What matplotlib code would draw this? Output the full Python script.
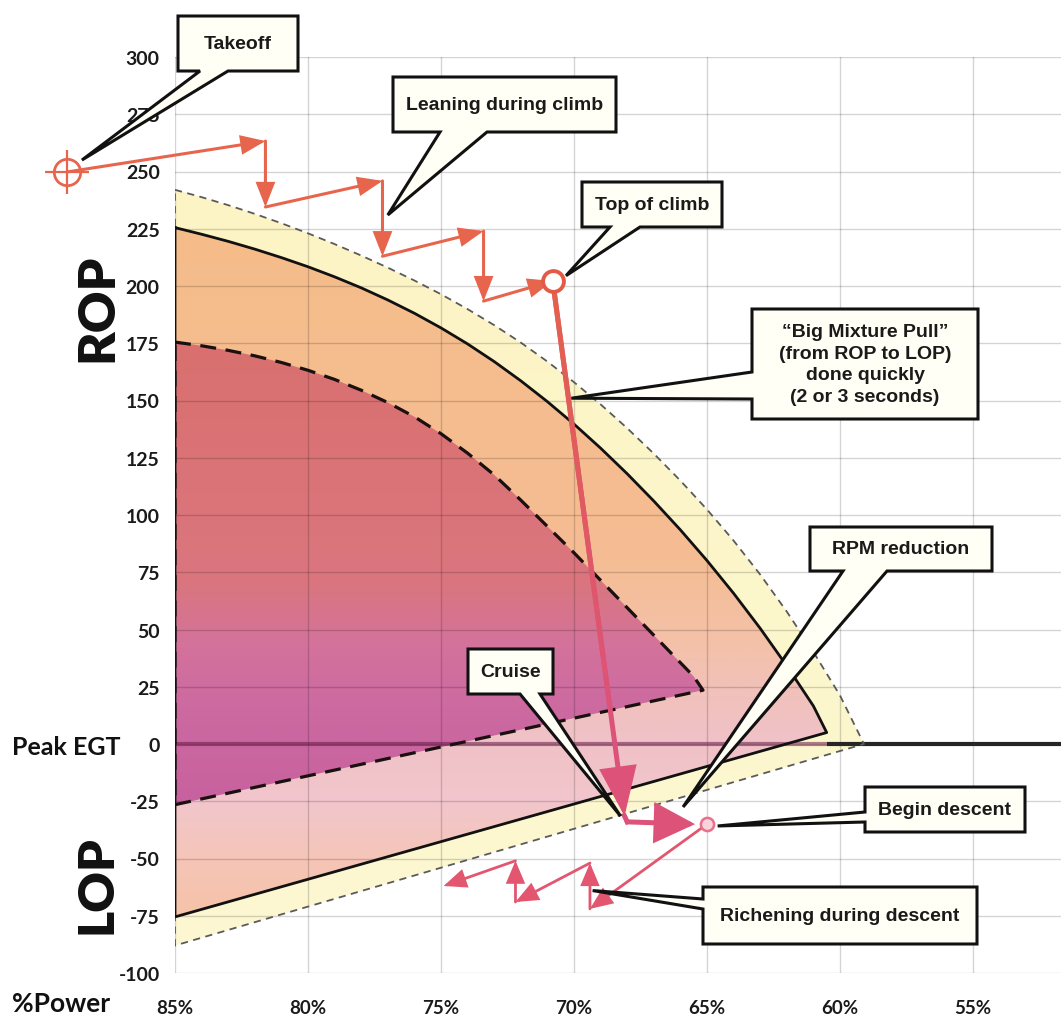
import numpy as np
import matplotlib
matplotlib.use("Agg")
import matplotlib.pyplot as plt
from matplotlib.patches import Polygon, FancyArrowPatch, ArrowStyle
from matplotlib.colors import LinearSegmentedColormap, to_rgb
from matplotlib.collections import LineCollection
from matplotlib import font_manager as fm

# ---------------- data ----------------
power_ticks = [85, 80, 75, 70, 65, 60, 55]
power_labels = ["85%", "80%", "75%", "70%", "65%", "60%", "55%"]
egt_ticks = list(range(-100, 301, 25))
egt_labels = [str(v) for v in egt_ticks]

# outer (yellow, dashed grey) envelope
outer_top_power = [85, 84, 83, 82, 81, 80, 79, 78, 77, 76, 75, 74, 73, 72, 71, 70,
                   69, 68, 67, 66, 65, 64, 63, 62, 61, 60, 59.1]
outer_top_egt = [242, 238.8, 235.3, 231.5, 227.4, 223.0, 218.3, 213.3, 208.0, 202.4,
                 196.4, 189.9, 182.9, 175.3, 167.0, 158.0, 148.3, 137.9, 126.8, 115.0,
                 102.4, 88.8, 74.0, 57.8, 40.2, 21.2, 0]
outer_bot_power = [59.1, 85]
outer_bot_egt = [0, -88]

# middle (orange, solid black) envelope
mid_top_power = [85, 84, 83, 82, 81, 80, 79, 78, 77, 76, 75, 74, 73, 72, 71, 70,
                 69, 68, 67, 66, 65, 64, 63, 62, 61, 60.5]
mid_top_egt = [225.5, 222.6, 219.5, 216.1, 212.4, 208.4, 204.0, 199.2, 193.9, 188.1,
               181.7, 174.7, 167.0, 158.6, 149.5, 139.7, 129.2, 118.0, 106.1, 93.5,
               80.1, 65.8, 50.5, 34.1, 16.6, 5]
mid_bot_power = [60.5, 85]
mid_bot_egt = [5, -75.5]

# inner (red, dashed black) envelope
inner_top_power = [85, 84, 83, 82, 81, 80, 79, 78, 77, 76, 75, 74, 73, 72, 71, 70,
                   69, 68, 67, 66, 65.5, 65.15]
inner_top_egt = [175.5, 173.9, 171.9, 169.5, 166.6, 163.2, 159.2, 154.5, 149.1, 142.9,
                 135.5, 127.0, 117.5, 106.5, 95.0, 83.5, 71.5, 59.5, 47.5, 35.5, 29.5, 23.5]
inner_bot_power = [65.15, 85]
inner_bot_egt = [23.5, -26.5]

# flight path
takeoff = (89.06, 249.8)
climb_power = [89.06, 81.6, 81.6, 77.2, 77.2, 73.4, 73.4, 70.8]
climb_egt = [249.8, 263.3, 234.5, 245.9, 213, 224, 193.4, 202.2]
pull_power = [70.8, 68.1]
pull_egt = [202.2, -31.5]
cruise_power = [68.0, 65.45]
cruise_egt = [-34, -35]
begin_descent = (65.0, -35)
descent_power = [65.0, 69.4, 69.4, 72.2, 72.2, 74.9]
descent_egt = [-35, -72, -52, -69, -51, -62]

# callouts: text, box (px), side, wedge base (px), pointer target (data)
callouts = [
    ("Takeoff", (178, 17, 298, 72), "bottom", (200, 228), (88.5, 255.0)),
    ("Leaning during climb", (393, 78, 616, 133), "bottom", (440, 487), (77.0, 231.0)),
    ("Top of climb", (582, 183, 722, 228), "bottom", (610, 640), (70.3, 204.5)),
    ("\u201cBig Mixture Pull\u201d\n(from ROP to LOP)\ndone quickly\n(2 or 3 seconds)",
     (752, 310, 978, 420), "left", (373, 400), (70.1, 151.0)),
    ("RPM reduction", (810, 528, 992, 572), "bottom", (843, 887), (65.9, -27.5)),
    ("Cruise", (468, 650, 553, 695), "bottom", (520, 540), (68.25, -31.5)),
    ("Begin descent", (865, 788, 1025, 833), "left", (813, 823), (64.6, -35.8)),
    ("Richening during descent", (703, 888, 977, 945), "left", (900, 910), (69.3, -64.0)),
]

# colour stops (egt value, colour)
outer_stops = [(-100, "#FDF8D2"), (250, "#FCF4C4")]
mid_stops = [(-75, "#F6C3A8"), (-50, "#F5C5B8"), (-27, "#F2C6CC"), (0, "#F0C2C8"),
             (20, "#F1C1BC"), (45, "#F4C1A8"), (80, "#F5BD94"), (225, "#F6BC8A")]
inner_stops = [(-26, "#C8629E"), (0, "#CA66A0"), (22, "#CE6CA0"), (45, "#D4739A"),
               (70, "#DA767F"), (110, "#DB7479"), (175, "#D9706F")]

# ---------------- fonts ----------------
names = {f.name for f in fm.fontManager.ttflist}
lab_font = ["Lato", "DejaVu Sans"] if "Lato" in names else ["DejaVu Sans"]
box_font = ["Liberation Sans", "DejaVu Sans"] if "Liberation Sans" in names else ["DejaVu Sans"]

# ---------------- figure ----------------
W, H = 1061, 1020
fig = plt.figure(figsize=(W / 100, H / 100), dpi=100)
fig.patch.set_facecolor("white")
ax = fig.add_axes([175 / W, 1 - 974 / H, 886 / W, (974 - 58) / H])
ax.set_xlim(85, 85 - 886 / 26.6)
ax.set_ylim(-100, 300)
for s in ax.spines.values():
    s.set_visible(False)

ax.set_xticks(power_ticks)
ax.set_xticklabels(power_labels)
ax.set_yticks(egt_ticks)
ax.set_yticklabels(egt_labels)
ax.tick_params(length=0)
ax.tick_params(axis="y", pad=11)
ax.tick_params(axis="x", pad=19)
for lab in ax.get_yticklabels():
    lab.set_fontfamily(lab_font); lab.set_fontweight("bold"); lab.set_fontsize(14); lab.set_color("#1A1A1A")
for lab in ax.get_xticklabels():
    lab.set_fontfamily(lab_font); lab.set_fontweight("bold"); lab.set_fontsize(13.5); lab.set_color("#1A1A1A")

ax.set_axisbelow(False)
ax.grid(True, color="black", alpha=0.17, lw=1.0)


def region(top_p, top_e, bot_p, bot_e, stops, edgekw, z):
    verts = list(zip(top_p, top_e)) + list(zip(bot_p[1:], bot_e[1:]))
    poly = Polygon(verts, closed=True, transform=ax.transData, facecolor="none", edgecolor="none")
    vmin, vmax = -100, 300
    cm = LinearSegmentedColormap.from_list(
        "g", [((v - vmin) / (vmax - vmin), c) for v, c in
              [(vmin, stops[0][1])] + stops + [(vmax, stops[-1][1])]])
    grad = np.linspace(0, 1, 400).reshape(-1, 1)
    im = ax.imshow(grad, extent=(85, 50, vmin, vmax), origin="lower", aspect="auto",
                   cmap=cm, vmin=0, vmax=1, zorder=z, interpolation="bilinear")
    im.set_clip_path(poly)
    xs = [p for p, e in verts] + [verts[0][0]]
    ys = [e for p, e in verts] + [verts[0][1]]
    ax.plot(xs, ys, zorder=3, **edgekw)


region(outer_top_power, outer_top_egt, outer_bot_power, outer_bot_egt, outer_stops,
       dict(color="#5A5A5A", lw=1.3, dashes=(4, 3)), 1.0)
region(mid_top_power, mid_top_egt, mid_bot_power, mid_bot_egt, mid_stops,
       dict(color="#111111", lw=2.0), 1.1)
region(inner_top_power, inner_top_egt, inner_bot_power, inner_bot_egt, inner_stops,
       dict(color="#1A1010", lw=2.3, dashes=(5, 3)), 1.2)

# Peak EGT line
ax.plot([85, mid_top_power[-1]], [0, 0], color="#6A1A48", alpha=0.55, lw=3.0, zorder=2.8,
        solid_capstyle="butt")
ax.plot([mid_top_power[-1], ax.get_xlim()[1]], [0, 0], color="#262626", lw=3.0, zorder=2.8,
        solid_capstyle="butt")


def arrow(p0, p1, color, lw, hl, hw, z=4):
    a = FancyArrowPatch(p0, p1, arrowstyle=ArrowStyle("-|>", head_length=hl, head_width=hw),
                        mutation_scale=1, lw=lw, color=color, shrinkA=0, shrinkB=0,
                        zorder=z, clip_on=False, joinstyle="miter")
    ax.add_patch(a)


climb_col = "#E8654D"
for i in range(len(climb_power) - 1):
    arrow((climb_power[i], climb_egt[i]), (climb_power[i + 1], climb_egt[i + 1]),
          climb_col, 2.2, 14, 5.5)

desc_col = "#E2566F"
for i in range(len(descent_power) - 1):
    arrow((descent_power[i], descent_egt[i]), (descent_power[i + 1], descent_egt[i + 1]),
          desc_col, 2.0, 13, 5.5)

# big mixture pull (gradient shaft + arrowhead)
c_top, c_bot = np.array(to_rgb("#E3624A")), np.array(to_rgb("#DD5279"))
arrow((pull_power[0], pull_egt[0]), (pull_power[1], pull_egt[1]), "#DD5279", 3.6, 29, 11, z=4.1)
t = np.linspace(0, 0.8, 41)
px = pull_power[0] + (pull_power[1] - pull_power[0]) * t
py = pull_egt[0] + (pull_egt[1] - pull_egt[0]) * t
segs = [[(px[i], py[i]), (px[i + 1], py[i + 1])] for i in range(len(t) - 1)]
cols = [tuple(c_top + (c_bot - c_top) * (t[i] / 0.8)) for i in range(len(t) - 1)]
ax.add_collection(LineCollection(segs, colors=cols, linewidths=3.6, zorder=4.2, capstyle="butt"))

ax.plot([pull_power[1], cruise_power[0]], [pull_egt[1], cruise_egt[0]], color="#DD5279",
        lw=3.6, zorder=4.1)
arrow((cruise_power[0], cruise_egt[0]), (cruise_power[1], cruise_egt[1]), "#DD5279", 3.6, 24, 12, z=4.1)

# markers
ax.plot([takeoff[0]], [takeoff[1]], marker="o", ms=19, mfc="none", mec=climb_col, mew=2.0,
        zorder=5, clip_on=False)
ax.plot([takeoff[0]], [takeoff[1]], marker="+", ms=32, mec=climb_col, mew=1.6, zorder=5,
        clip_on=False)
ax.plot([climb_power[-1]], [climb_egt[-1]], marker="o", ms=15, mfc="white", mec="#E25A48",
        mew=2.8, zorder=5)
ax.plot([begin_descent[0]], [begin_descent[1]], marker="o", ms=9.5, mfc="#F8D3DC", mec="#E8708A",
        mew=1.8, zorder=5)

# side labels
fig.text(97 / W, 1 - 308 / H, "ROP", rotation=90, ha="center", va="center", fontsize=37,
         fontweight="heavy", family=lab_font, color="#111111")
fig.text(97 / W, 1 - 885 / H, "LOP", rotation=90, ha="center", va="center", fontsize=36,
         fontweight="heavy", family=lab_font, color="#111111")
fig.text(120 / W, 1 - 748 / H, "Peak EGT", ha="right", va="center", fontsize=18,
         fontweight="bold", family=lab_font, color="#111111")
fig.text(12 / W, 1 - 1004 / H, "%Power", ha="left", va="center", fontsize=19,
         fontweight="bold", family=lab_font, color="#111111")

# callouts
to_fig = fig.transFigure.inverted()


def f(x, y):
    return (x / W, 1 - y / H)


for text, (x0, y0, x1, y1), side, base, tip in callouts:
    tx, ty = to_fig.transform(ax.transData.transform(tip))
    if side == "bottom":
        verts = [f(x0, y0), f(x1, y0), f(x1, y1), f(base[1], y1), (tx, ty), f(base[0], y1), f(x0, y1)]
    else:
        verts = [f(x0, y0), f(x1, y0), f(x1, y1), f(x0, y1), f(x0, base[1]), (tx, ty), f(x0, base[0])]
    poly = Polygon(verts, closed=True, transform=fig.transFigure, facecolor="#FFFFF6",
                   edgecolor="#111111", lw=2.2, joinstyle="miter", zorder=10)
    fig.add_artist(poly)
    fig.text((x0 + x1) / 2 / W, 1 - (y0 + y1) / 2 / H, text, ha="center", va="center",
             fontsize=14, fontweight="bold", family=box_font, color="#1A1A1A",
             linespacing=1.38, zorder=11)

fig.savefig("out.png", dpi=100, facecolor="white")
